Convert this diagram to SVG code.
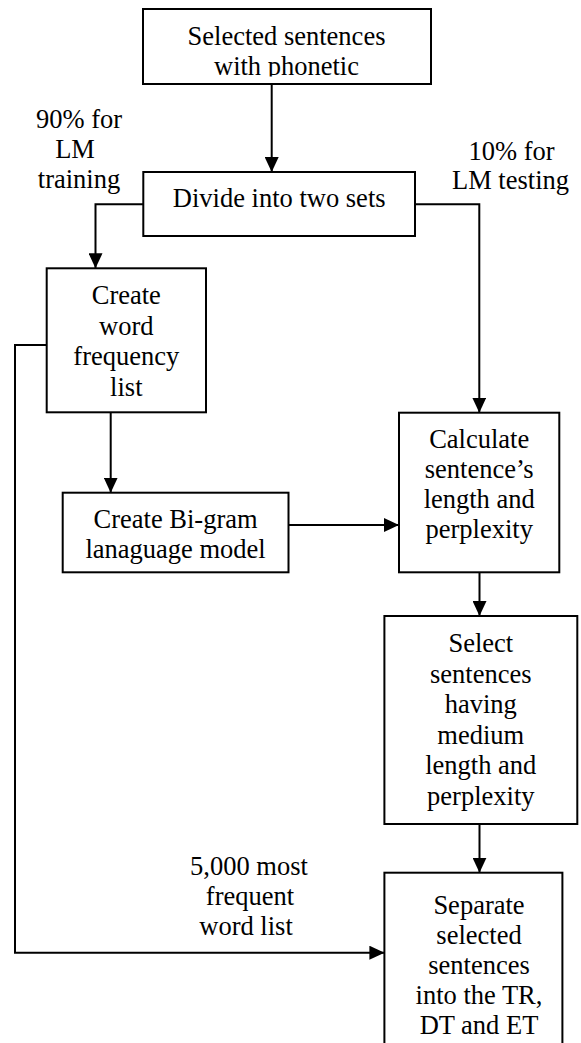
<svg xmlns="http://www.w3.org/2000/svg" width="581" height="1043" viewBox="0 0 581 1043">
<style>
.box{fill:#fff;stroke:#000;stroke-width:2}
.t{font-family:"Liberation Serif","Times New Roman",serif;font-size:26.5px;fill:#000;text-anchor:middle}
.c{fill:none;stroke:#000;stroke-width:2}
</style>
<defs>
<marker id="ah" markerUnits="userSpaceOnUse" markerWidth="15" markerHeight="14" refX="15" refY="7" orient="auto">
<path d="M0,0 L15,7 L0,14 z" fill="#000"/>
</marker>
<clipPath id="clipTop"><rect x="143" y="9" width="288" height="67.5"/></clipPath>
</defs>
<rect width="581" height="1043" fill="#fff"/>
<g id="connectors">
<path class="c" d="M271.7 84 V172" marker-end="url(#ah)"/>
<path class="c" d="M143 204.3 H95.5 V268.3" marker-end="url(#ah)"/>
<path class="c" d="M415 204.3 H479.3 V412.7" marker-end="url(#ah)"/>
<path class="c" d="M110.7 412.3 V492.7" marker-end="url(#ah)"/>
<path class="c" d="M288.5 525 H399" marker-end="url(#ah)"/>
<path class="c" d="M479.5 572.3 V616" marker-end="url(#ah)"/>
<path class="c" d="M479.5 824 V872.7" marker-end="url(#ah)"/>
<path class="c" d="M46.7 345 H15 V952.7 H384.4" marker-end="url(#ah)"/>
</g>
<g id="labels">
<text class="t" x="79" y="128">90% for</text>
<text class="t" x="75" y="158">LM</text>
<text class="t" x="79" y="187.5">training</text>
<text class="t" x="511.5" y="160">10% for</text>
<text class="t" x="510.5" y="189">LM testing</text>
<text class="t" x="249" y="875">5,000 most</text>
<text class="t" x="250" y="905">frequent</text>
<text class="t" x="246" y="935">word list</text>
</g>
<g id="node-selected">
<rect class="box" x="143" y="9" width="288" height="75"/>
<g clip-path="url(#clipTop)">
<text class="t" x="286.5" y="45">Selected sentences</text>
<text class="t" x="286.5" y="74.5">with phonetic</text>
</g>
</g>
<g id="node-divide">
<rect class="box" x="143.3" y="172" width="271.7" height="64"/>
<text class="t" x="279.2" y="206.7">Divide into two sets</text>
</g>
<g id="node-wordfreq">
<rect class="box" x="46.7" y="268.3" width="159.3" height="144"/>
<text class="t" x="126.3" y="304">Create</text>
<text class="t" x="126.3" y="334.5">word</text>
<text class="t" x="126.3" y="365">frequency</text>
<text class="t" x="126.3" y="395.5">list</text>
</g>
<g id="node-bigram">
<rect class="box" x="62.7" y="492.7" width="225.8" height="79.6"/>
<text class="t" x="175.6" y="528.3">Create Bi-gram</text>
<text class="t" x="175.6" y="558.3">lanaguage model</text>
</g>
<g id="node-calculate">
<rect class="box" x="399" y="412.7" width="160.3" height="159.6"/>
<text class="t" x="479.2" y="448.3">Calculate</text>
<text class="t" x="479.2" y="478.3">sentence’s</text>
<text class="t" x="479.2" y="508.3">length and</text>
<text class="t" x="479.2" y="538.3">perplexity</text>
</g>
<g id="node-select">
<rect class="box" x="384.4" y="616" width="192.9" height="208"/>
<text class="t" x="480.8" y="652">Select</text>
<text class="t" x="480.8" y="682.5">sentences</text>
<text class="t" x="480.8" y="713">having</text>
<text class="t" x="480.8" y="743.5">medium</text>
<text class="t" x="480.8" y="774">length and</text>
<text class="t" x="480.8" y="804.5">perplexity</text>
</g>
<g id="node-separate">
<rect class="box" x="384.4" y="872.7" width="178" height="180"/>
<text class="t" x="479" y="914">Separate</text>
<text class="t" x="479" y="944">selected</text>
<text class="t" x="479" y="974">sentences</text>
<text class="t" x="479" y="1004">into the TR,</text>
<text class="t" x="479" y="1034">DT and ET</text>
</g>
</svg>
